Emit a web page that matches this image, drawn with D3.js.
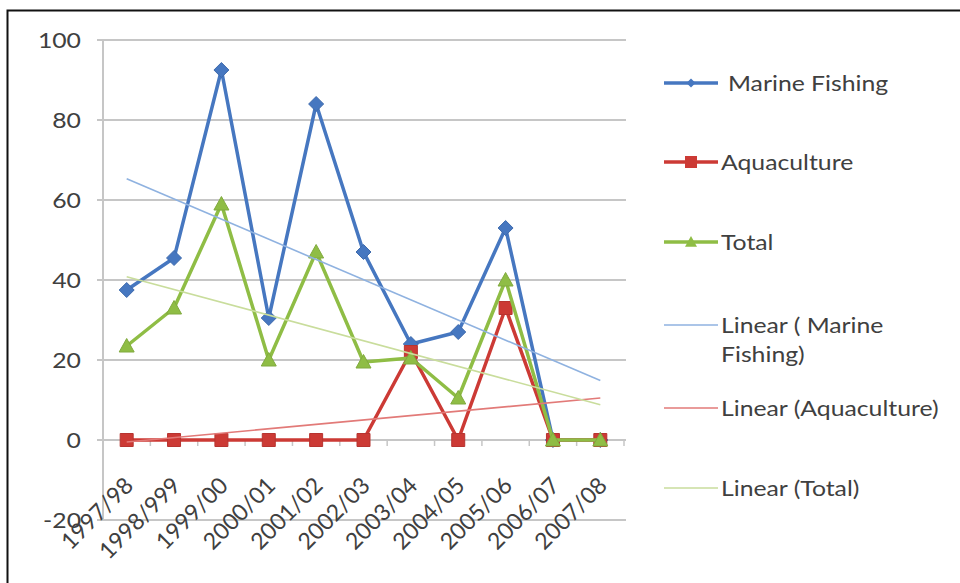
<!DOCTYPE html>
<html>
<head>
<meta charset="utf-8">
<script src="https://cdn.jsdelivr.net/npm/d3@7"></script>
<style>
  body { margin: 0; background: #fff; }
  svg { display: block; font-family: Lato, "Open Sans", sans-serif; }
  .axis text { fill: #404040; }
</style>
</head>
<body>
<svg id="chart" width="960" height="583"></svg>
<script>
// categories (fiscal years) as printed on the x axis
var years = ["1997/98", "1998/999", "1999/00", "2000/01", "2001/02", "2002/03",
             "2003/04", "2004/05", "2005/06", "2006/07", "2007/08"];

// series values
var marineFishing = [37.5, 45.5, 92.5, 30.5, 84, 47, 24, 27, 53, 0, 0];
var aquaculture   = [0, 0, 0, 0, 0, 0, 22, 0, 33, 0, 0];
var total         = [23.5, 33, 59, 20, 47, 19.5, 20.5, 10.5, 40, 0, 0];

var yTicks = [-20, 0, 20, 40, 60, 80, 100];

var series = [
  { name: "Marine Fishing", values: marineFishing, color: "#4677c0", marker: "diamond", trend: "#8fb2e0", trendName: "Linear ( Marine\nFishing)" },
  { name: "Aquaculture", values: aquaculture, color: "#cc3a35", marker: "square", trend: "#e27a78", trendName: "Linear (Aquaculture)" },
  { name: "Total", values: total, color: "#8fbd45", marker: "triangle", trend: "#c9dd9c", trendName: "Linear (Total)" }
];

var stretch = 1.18; // horizontal text is a bit wider than it is tall in the picture

var svg = d3.select("#chart");

// outer frame: only top and left edges show in the picture
svg.append("path")
  .attr("d", "M7.5,583 V10.5 H960")
  .attr("fill", "none")
  .attr("stroke", "#111")
  .attr("stroke-width", 2);

var plotLeft = 103, plotRight = 624;

var x = d3.scalePoint()
  .domain(years)
  .range([plotLeft, plotRight])
  .padding(0.5);

var y = d3.scaleLinear()
  .domain([-20, 100])
  .range([520, 40]);

// horizontal gridlines
svg.append("g")
  .selectAll("line")
  .data(yTicks)
  .enter().append("line")
  .attr("x1", plotLeft - 6)
  .attr("x2", plotRight + 2)
  .attr("y1", function(d) { return y(d); })
  .attr("y2", function(d) { return y(d); })
  .attr("stroke", "#c6c6c6")
  .attr("stroke-width", 2);

// vertical axis line
svg.append("line")
  .attr("x1", plotLeft).attr("x2", plotLeft)
  .attr("y1", y(100)).attr("y2", y(-20))
  .attr("stroke", "#c6c6c6")
  .attr("stroke-width", 2);

// y tick labels
svg.append("g")
  .attr("class", "axis")
  .selectAll("text")
  .data(yTicks)
  .enter().append("text")
  .attr("text-anchor", "end")
  .attr("dy", "0.36em")
  .attr("font-size", 21)
  .attr("transform", function(d) { return "translate(81," + y(d) + ")scale(" + stretch + ",1)"; })
  .text(function(d) { return d; });

// x axis sits on the zero line, tick marks between categories
var step = x.step();
svg.append("g")
  .selectAll("line")
  .data(years.concat(["end"]))
  .enter().append("line")
  .attr("x1", function(d, i) { return plotLeft + i * step; })
  .attr("x2", function(d, i) { return plotLeft + i * step; })
  .attr("y1", y(0))
  .attr("y2", y(0) + 6)
  .attr("stroke", "#c6c6c6")
  .attr("stroke-width", 1.5);

svg.append("g")
  .attr("class", "axis")
  .selectAll("text")
  .data(years)
  .enter().append("text")
  .attr("text-anchor", "end")
  .attr("font-size", 23)
  .attr("transform", function(d) {
    return "translate(" + (x(d) + 8) + "," + (y(0) + 47) + ")rotate(-45)";
  })
  .text(function(d) { return d; });

// series lines
var line = d3.line()
  .x(function(d, i) { return x(years[i]); })
  .y(function(d) { return y(d); });

function markerPath(kind, r) {
  if (kind === "diamond") return "M0," + (-r) + "L" + r + ",0L0," + r + "L" + (-r) + ",0Z";
  if (kind === "square") return "M" + (-r) + "," + (-r) + "H" + r + "V" + r + "H" + (-r) + "Z";
  return "M0," + (-r) + "L" + r + "," + (r * 0.8) + "H" + (-r) + "Z";
}

series.forEach(function(s) {
  svg.append("path")
    .datum(s.values)
    .attr("fill", "none")
    .attr("stroke", s.color)
    .attr("stroke-width", 3.5)
    .attr("stroke-linejoin", "round")
    .attr("d", line);

  svg.append("g")
    .selectAll("path")
    .data(s.values)
    .enter().append("path")
    .attr("d", markerPath(s.marker, s.marker === "square" ? 6.5 : 7.5))
    .attr("transform", function(d, i) { return "translate(" + x(years[i]) + "," + y(d) + ")"; })
    .attr("fill", s.color)
    .attr("stroke", d3.color(s.color).darker(0.3))
    .attr("stroke-width", 1);
});

// least squares trendlines (Excel "Linear" trendline)
series.forEach(function(s) {
  var n = s.values.length;
  var idx = d3.range(1, n + 1);
  var mx = d3.mean(idx), my = d3.mean(s.values);
  var sxy = d3.sum(idx, function(k, i) { return (k - mx) * (s.values[i] - my); });
  var sxx = d3.sum(idx, function(k) { return (k - mx) * (k - mx); });
  var slope = sxy / sxx, icpt = my - slope * mx;
  svg.append("line")
    .attr("x1", x(years[0]))
    .attr("y1", y(icpt + slope * 1))
    .attr("x2", x(years[n - 1]))
    .attr("y2", y(icpt + slope * n))
    .attr("stroke", s.trend)
    .attr("stroke-width", 1.6);
});

// legend
var legendRows = [83, 162, 242, 325, 408, 488];
var legendItems = series.map(function(s) { return { label: s.name, color: s.color, marker: s.marker, width: 3.5 }; })
  .concat(series.map(function(s) { return { label: s.trendName, color: s.trend, marker: null, width: 1.6 }; }));

var legend = svg.append("g")
  .selectAll("g")
  .data(legendItems)
  .enter().append("g")
  .attr("transform", function(d, i) { return "translate(0," + legendRows[i] + ")"; });

legend.append("line")
  .attr("x1", 664).attr("x2", 718)
  .attr("stroke", function(d) { return d.color; })
  .attr("stroke-width", function(d) { return d.width; });

legend.filter(function(d) { return d.marker; })
  .append("path")
  .attr("d", function(d) { return markerPath(d.marker, d.marker === "diamond" ? 4.5 : 6); })
  .attr("transform", "translate(691,0)")
  .attr("fill", function(d) { return d.color; });

legend.append("text")
  .attr("fill", "#404040")
  .attr("font-size", 21)
  .attr("transform", function(d, i) { return "translate(" + (i === 0 ? 728 : 721) + ",0)scale(" + stretch + ",1)"; })
  .each(function(d) {
    var t = d3.select(this);
    d.label.split("\n").forEach(function(part, j) {
      t.append("tspan")
        .attr("x", 0)
        .attr("dy", j === 0 ? "0.36em" : "1.4em")
        .text(part);
    });
  });
</script>
</body>
</html>
